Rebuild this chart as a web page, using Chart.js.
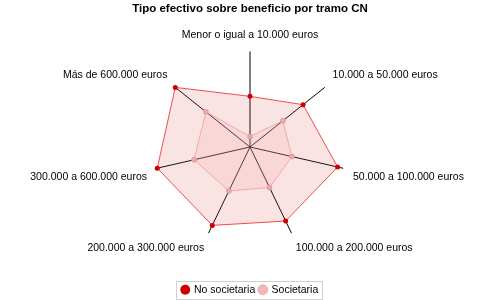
<!DOCTYPE html>
<html>
<head>
<meta charset="utf-8">
<script src="https://cdn.jsdelivr.net/npm/chart.js@4"></script>
<style>
  body { margin: 0; background: #fff; }
  #wrap { width: 500px; height: 300px; }
</style>
</head>
<body>
<div id="wrap"><canvas id="myChart"></canvas></div>
<script>
// data
const tramos = [
  'Menor o igual a 10.000 euros',
  '10.000 a 50.000 euros',
  '50.000 a 100.000 euros',
  '100.000 a 200.000 euros',
  '200.000 a 300.000 euros',
  '300.000 a 600.000 euros',
  'Más de 600.000 euros'
];
const noSocietaria = [10.6, 14.2, 18.8, 17.2, 18.2, 19.9, 20.0];
const societaria = [2.2, 8.8, 9.0, 9.4, 10.2, 12.0, 11.8];

Chart.defaults.font.family = "'Liberation Sans', Arial, sans-serif";
Chart.defaults.color = '#000';

// border round the legend items only
const legendBox = {
  id: 'legendBox',
  afterDraw(chart) {
    const l = chart.legend;
    if (!l || !l.legendHitBoxes || !l.legendHitBoxes.length) return;
    const hb = l.legendHitBoxes;
    const x0 = Math.min(...hb.map(b => b.left)) - 6;
    const x1 = Math.max(...hb.map(b => b.left + b.width)) + 4;
    const y0 = Math.min(...hb.map(b => b.top)) - 4;
    const y1 = Math.max(...hb.map(b => b.top + b.height)) + 3;
    const c = chart.ctx;
    c.save();
    c.strokeStyle = '#cfcfcf';
    c.lineWidth = 1;
    c.strokeRect(Math.round(x0) + 0.5, Math.round(y0) + 0.5, Math.round(x1 - x0), Math.round(y1 - y0));
    c.restore();
  }
};

const ctx = document.getElementById('myChart').getContext('2d');
const myChart = new Chart(ctx, {
  type: 'radar',
  data: {
    labels: tramos,
    datasets: [{
      label: 'No societaria',
      data: noSocietaria,
      backgroundColor: 'rgba(215, 80, 80, 0.16)',
      borderColor: 'rgba(232, 50, 50, 0.85)',
      borderWidth: 1,
      pointRadius: 2.5,
      pointBackgroundColor: '#cc0000',
      pointBorderColor: '#cc0000',
      pointBorderWidth: 0
    }, {
      label: 'Societaria',
      data: societaria,
      backgroundColor: 'rgba(255, 200, 200, 0.25)',
      borderColor: 'rgba(248, 185, 185, 1)',
      borderWidth: 1,
      pointRadius: 2.5,
      pointBackgroundColor: '#f5b8b5',
      pointBorderColor: '#c8a0a0',
      pointBorderWidth: 0.6
    }]
  },
  options: {
    responsive: true,
    maintainAspectRatio: false,
    animation: false,
    layout: { padding: { top: 0, bottom: -5, left: 10, right: 10 } },
    elements: { line: { tension: 0 } },
    scales: {
      r: {
        min: 0,
        max: 20,
        ticks: { display: false },
        grid: { display: false },
        angleLines: { color: '#000', lineWidth: 1 },
        pointLabels: { font: { size: 10.5 }, color: '#000', padding: 10 }
      }
    },
    plugins: {
      title: {
        display: true,
        text: 'Tipo efectivo sobre beneficio por tramo CN',
        font: { size: 11.5, weight: 'bold' },
        color: '#000',
        padding: { top: 2, bottom: 8 }
      },
      legend: {
        position: 'bottom',
        title: { display: true, text: '', font: { size: 1 }, padding: { top: 0, bottom: 19 } },
        labels: {
          usePointStyle: true,
          pointStyle: 'circle',
          boxWidth: 7,
          boxHeight: 7,
          padding: 4,
          font: { size: 10.5 },
          color: '#000'
        }
      },
      tooltip: { enabled: false }
    }
  },
  plugins: [legendBox]
});
</script>
</body>
</html>
